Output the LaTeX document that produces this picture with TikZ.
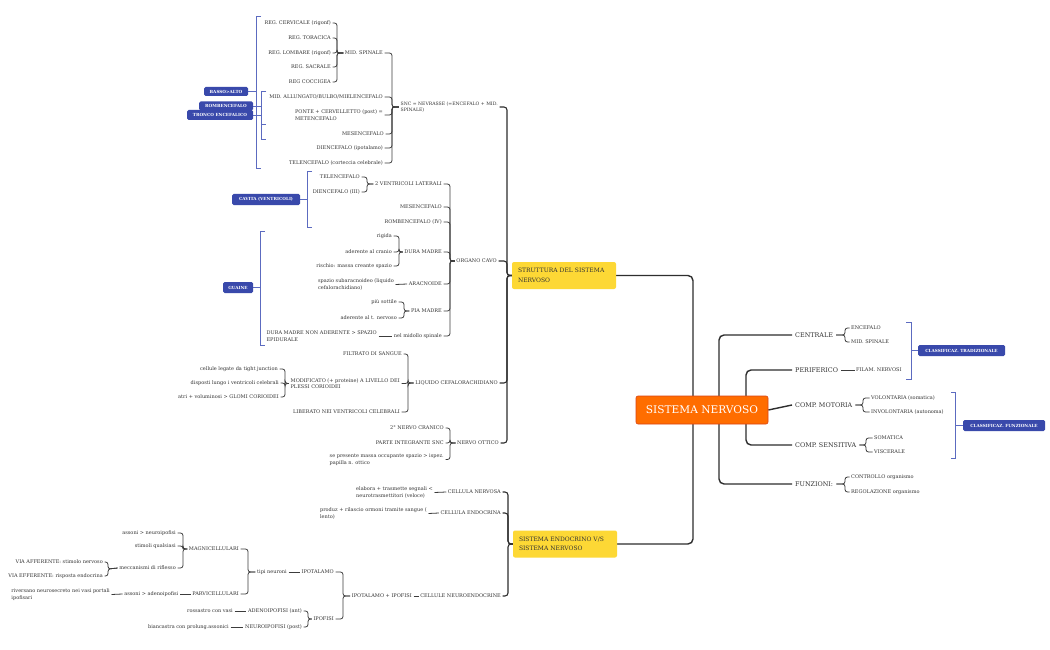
\documentclass[tikz,border=0pt]{standalone}
\usepackage{fontspec}
\setmainfont{DejaVu Serif}
\usetikzlibrary{backgrounds}
\hyphenpenalty=10000
\exhyphenpenalty=10000
\definecolor{txt}{HTML}{333333}
\definecolor{ln}{HTML}{2E2E2E}
\definecolor{ln3}{HTML}{3C3C3C}
\definecolor{orng}{HTML}{FF6D00}
\definecolor{orngd}{HTML}{D84315}
\definecolor{ylw}{HTML}{FDD835}
\definecolor{bdg}{HTML}{3949AB}
\definecolor{brk}{HTML}{5C6BC0}
\tikzset{
  sm/.style={font=\fontsize{5}{6.5}\selectfont, text=txt, inner sep=1.5pt, align=left},
  L/.style={sm, anchor=east},
  R/.style={sm, anchor=west},
  midr/.style={font=\fontsize{6.4}{8}\selectfont, text=txt, inner sep=3pt, anchor=west},
  yel/.style={fill=ylw, rounded corners=2pt, font=\fontsize{6}{9.5}\selectfont, text=txt,
    align=left, text width=92pt, inner xsep=6pt, minimum height=27pt},
  rootbox/.style={fill=orng, draw=orngd, line width=0.6pt, rounded corners=2pt, text=white,
    font=\fontsize{10.6}{12}\selectfont, minimum width=132pt, minimum height=28pt},
  badge/.style={fill=bdg, rounded corners=1.5pt, text=white, inner sep=0pt,
    font=\bfseries\fontsize{4.2}{5}\selectfont},
  brk/.style={draw=brk, line width=0.7pt},
  c1/.style={draw=ln, line width=1.4pt, rounded corners=5pt},
  c2/.style={draw=ln, line width=1.1pt, rounded corners=3pt},
  c3/.style={draw=ln3, line width=0.8pt, rounded corners=2.5pt},
}
\begin{document}
\begin{tikzpicture}[x=1pt,y=-1pt]
\useasboundingbox (0,0) rectangle (1050,650);

% ---------- root and level 1
\node[rootbox] (root) at (702,410) {SISTEMA NERVOSO};
\node[yel] (str) at (564,275.5) {\mbox{STRUTTURA DEL SISTEMA}\\NERVOSO};
\node[yel] (endo) at (565,544) {\mbox{SISTEMA ENDOCRINO V/S}\\\mbox{SISTEMA NERVOSO}};

% ---------- right side
\node[midr] (centrale) at (792,335) {CENTRALE};
\node[midr] (perif) at (792,370) {PERIFERICO};
\node[midr] (motoria) at (792,405) {COMP. MOTORIA};
\node[midr] (sensit) at (792,445) {COMP. SENSITIVA};
\node[midr] (funz) at (792,484) {FUNZIONI:};
\node[R] (encef) at (849.5,328) {ENCEFALO};
\node[R] (midsp2) at (849.5,342) {MID. SPINALE};
\node[R] (filam) at (854.5,370) {FILAM. NERVOSI};
\node[R] (volon) at (869.5,398) {VOLONTARIA (somatica)};
\node[R] (invol) at (869.5,412) {INVOLONTARIA (autonoma)};
\node[R] (somat) at (872.5,438) {SOMATICA};
\node[R] (visc) at (872.5,452) {VISCERALE};
\node[R] (contr) at (849.5,477) {CONTROLLO organismo};
\node[R] (regol) at (849.5,492) {REGOLAZIONE organismo};
\node[badge, minimum width=87pt, minimum height=11pt] (trad) at (961.5,350.5) {CLASSIFICAZ. TRADIZIONALE};
\node[badge, minimum width=82pt, minimum height=11pt] (funzb) at (1004,425.5) {CLASSIFICAZ. FUNZIONALE};

% ---------- struttura subtree
\node[L, font=\fontsize{4.6}{6.2}\selectfont] (snc) at (499.5,107) {SNC = NEVRASSE (=ENCEFALO + MID.\\SPINALE)};
\node[L] (organo) at (498.5,261) {ORGANO CAVO};
\node[L] (liquido) at (499.5,383) {LIQUIDO CEFALORACHIDIANO};
\node[L] (nervo) at (500.5,443) {NERVO OTTICO};

\node[L] (midsp) at (384.5,53) {MID. SPINALE};
\node[L] (allung) at (384.5,97) {MID. ALLUNGATO/BULBO/MIELENCEFALO};
\node[L] (ponte) at (384.5,115) {PONTE + CERVELLETTO (post) =\\METENCEFALO};
\node[L] (mesen1) at (385.5,134) {MESENCEFALO};
\node[L] (dien1) at (384.5,148) {DIENCEFALO (ipotalamo)};
\node[L] (tele1) at (384.5,163) {TELENCEFALO (corteccia celebrale)};

\node[L] (cerv) at (332.5,23) {REG. CERVICALE (rigonf)};
\node[L] (torac) at (332.5,38) {REG. TORACICA};
\node[L] (lomb) at (332.5,53) {REG. LOMBARE (rigonf)};
\node[L] (sacr) at (332.5,67) {REG. SACRALE};
\node[L] (cocc) at (332.5,82) {REG COCCIGEA};

\node[L] (ventr) at (443.5,184) {2 VENTRICOLI LATERALI};
\node[L] (mesen2) at (443.5,207) {MESENCEFALO};
\node[L] (romb2) at (443.5,222) {ROMBENCEFALO (IV)};
\node[L] (dura) at (443.5,252) {DURA MADRE};
\node[L] (arac) at (443.5,284) {ARACNOIDE};
\node[L] (pia) at (443.5,311) {PIA MADRE};
\node[L] (nelmid) at (443.5,336) {nel midollo spinale};

\node[L] (tele2) at (361.5,177) {TELENCEFALO};
\node[L] (dien2) at (361.5,192) {DIENCEFALO (III)};
\node[L] (rigida) at (393.5,236) {rigida};
\node[L] (aderc) at (393.5,252) {aderente al cranio};
\node[L] (rischio) at (393.5,266) {rischio: massa creante spazio};
\node[L] (subar) at (395.5,284.5) {spazio subaracnoideo (liquido\\cefalorachidiano)};
\node[L] (sottile) at (398.5,302) {più sottile};
\node[L] (adert) at (398.5,318) {aderente al t. nervoso};
\node[L] (epid) at (378.5,336) {DURA MADRE NON ADERENTE > SPAZIO\\EPIDURALE};

\node[L] (filtr) at (403.5,354) {FILTRATO DI SANGUE};
\node[L] (modif) at (401.5,383.5) {MODIFICATO (+ proteine) A LIVELLO DEI\\PLESSI CORIOIDEI};
\node[L] (liber) at (401.5,412) {LIBERATO NEI VENTRICOLI CELEBRALI};
\node[L] (tight) at (279.5,369) {cellule legate da tight junction};
\node[L] (dispo) at (280.5,383) {disposti lungo i ventricoli celebrali};
\node[L] (atri) at (280.5,397) {atri + voluminosi > GLOMI CORIOIDEI};

\node[L] (cran) at (445.5,428) {2° NERVO CRANICO};
\node[L] (parte) at (445.5,443) {PARTE INTEGRANTE SNC};
\node[L] (massa) at (445.5,459.5) {se presente massa occupante spazio > ispez.\\papilla n. ottico};

% ---------- endocrino subtree
\node[L] (cnerv) at (502.5,492) {CELLULA NERVOSA};
\node[L] (cendo) at (502.5,513) {CELLULA ENDOCRINA};
\node[L] (cneuro) at (502.5,596) {CELLULE NEUROENDOCRINE};
\node[L] (elab) at (434.5,492.5) {elabora + trasmette segnali <\\neurotrasmettitori (veloce)};
\node[L] (produz) at (428.5,513.5) {produz + rilascio ormoni tramite sangue (\\lento)};
\node[L] (ipoipo) at (413.5,596) {IPOTALAMO + IPOFISI};
\node[L] (ipot) at (335.5,572) {IPOTALAMO};
\node[L] (ipof) at (335.5,619) {IPOFISI};
\node[L] (tipi) at (288.5,572) {tipi neuroni};
\node[L] (magni) at (240.5,549) {MAGNICELLULARI};
\node[L] (parvi) at (240.5,594) {PARVICELLULARI};
\node[L] (assn) at (177.5,533) {assoni > neuroipofisi};
\node[L] (stim) at (177.5,546) {stimoli qualsiasi};
\node[L] (mecc) at (177.5,568) {meccanismi di riflesso};
\node[L] (viaaff) at (104.5,562) {VIA AFFERENTE: stimolo nervoso};
\node[L] (viaeff) at (104.5,576) {VIA EFFERENTE: risposta endocrina};
\node[L] (asad) at (180,594) {assoni > adenoipofisi};
\node[L] (river) at (111.5,594.5) {riversano neurosecreto nei vasi portali\\ipofisari};
\node[L] (adeno) at (303.5,611) {ADENOIPOFISI (ant)};
\node[L] (neuroi) at (303.5,627) {NEUROIPOFISI (post)};
\node[L] (rossa) at (234.5,611) {rossastro con vasi};
\node[L] (bianca) at (230.5,627) {biancastra con prolung.assonici};

% ---------- left badges
\node[badge, minimum width=44pt, minimum height=9pt] (basso) at (226,91.5) {BASSO>ALTO};
\node[badge, minimum width=54pt, minimum height=9pt] (romb) at (226,106) {ROMBENCEFALO};
\node[badge, minimum width=66pt, minimum height=10pt] (tronco) at (220,115) {TRONCO ENCEFALICO};
\node[badge, minimum width=68pt, minimum height=11pt] (cavita) at (266,199.5) {CAVITA (VENTRICOLI)};
\node[badge, minimum width=30pt, minimum height=11pt] (guaine) at (238,287.5) {GUAINE};

\begin{pgfonlayer}{background}
\fill[white] (0,0) rectangle (1050,650);
% summary brackets
\draw[brk] (261,16) -| (256,168) -- (261,168);
\draw[brk] (basso.east) -- (256,91.5);
\draw[brk] (266,91) -| (261,124) -- (266,124);
\draw[brk] (romb.east) -- (261,106);
\draw[brk] (266,91) -| (261,139) -- (266,139);
\draw[brk] (tronco.east) -- (261,115);
\draw[brk] (312,171) -| (307,227) -- (312,227);
\draw[brk] (cavita.east) -- (307,199.5);
\draw[brk] (265,231) -| (260,345) -- (265,345);
\draw[brk] (guaine.east) -- (260,287.5);
\draw[brk] (906,322) -| (911,379) -- (906,379);
\draw[brk] (911,350.5) -- (trad.west);
\draw[brk] (951,392) -| (955,458) -- (951,458);
\draw[brk] (955,425.5) -- (funzb.west);

% root connectors
\coordinate (rl) at (693,410);
\coordinate (rr1) at (719,410);
\coordinate (rr2) at (746,410);
\draw[c1] (str.east) -| (rl);
\draw[c1] (endo.east) -| (rl);
\draw[c1] (rr1) |- (centrale.west);
\draw[c1] (rr1) |- (funz.west);
\draw[c1] (rr2) |- (perif.west);
\draw[c1] (rr2) |- (sensit.west);
\draw[c1] (root.east) -- (motoria.west);

% right level 3
\draw[c3] (centrale.east) -- (845,335) |- (encef.west);
\draw[c3] (centrale.east) -- (845,335) |- (midsp2.west);
\draw[c3] (perif.east) -- (filam.west);
\draw[c3] (motoria.east) -- (863,405) |- (volon.west);
\draw[c3] (motoria.east) -- (863,405) |- (invol.west);
\draw[c3] (sensit.east) -- (866,445) |- (somat.west);
\draw[c3] (sensit.east) -- (866,445) |- (visc.west);
\draw[c3] (funz.east) -- (845,484) |- (contr.west);
\draw[c3] (funz.east) -- (845,484) |- (regol.west);

% struttura
\coordinate (sb) at (507,275.5);
\foreach \n in {snc,organo,liquido,nervo} \draw[c2] (\n.east) -| (sb) -- (str.west);
\coordinate (snb) at (392,107);
\foreach \n in {midsp,allung,ponte,mesen1,dien1,tele1} \draw[c3] (\n.east) -| (snb) -- (snc.west);
\coordinate (msb) at (337,53);
\foreach \n in {cerv,torac,lomb,sacr,cocc} \draw[c3] (\n.east) -| (msb) -- (midsp.west);
\coordinate (ocb) at (450,261);
\foreach \n in {ventr,mesen2,romb2,dura,arac,pia,nelmid} \draw[c3] (\n.east) -| (ocb) -- (organo.west);
\coordinate (vb) at (367,184);
\foreach \n in {tele2,dien2} \draw[c3] (\n.east) -| (vb) -- (ventr.west);
\coordinate (db) at (399,252);
\foreach \n in {rigida,aderc,rischio} \draw[c3] (\n.east) -| (db) -- (dura.west);
\draw[c3] (subar.east) -- (arac.west);
\coordinate (pb) at (404,311);
\foreach \n in {sottile,adert} \draw[c3] (\n.east) -| (pb) -- (pia.west);
\draw[c3] (epid.east) -- (nelmid.west);
\coordinate (lb) at (408,383);
\foreach \n in {filtr,modif,liber} \draw[c3] (\n.east) -| (lb) -- (liquido.west);
\coordinate (mb) at (285,383.5);
\foreach \n in {tight,dispo,atri} \draw[c3] (\n.east) -| (mb) -- (modif.west);
\coordinate (nb) at (450,443);
\foreach \n in {cran,parte,massa} \draw[c3] (\n.east) -| (nb) -- (nervo.west);

% endocrino
\coordinate (eb) at (508,544);
\foreach \n in {cnerv,cendo,cneuro} \draw[c2] (\n.east) -| (eb) -- (endo.west);
\draw[c3] (elab.east) -- (cnerv.west);
\draw[c3] (produz.east) -- (cendo.west);
\draw[c3] (ipoipo.east) -- (cneuro.west);
\coordinate (ib) at (343,596);
\foreach \n in {ipot,ipof} \draw[c3] (\n.east) -| (ib) -- (ipoipo.west);
\draw[c3] (tipi.east) -- (ipot.west);
\coordinate (tb) at (248,572);
\foreach \n in {magni,parvi} \draw[c3] (\n.east) -| (tb) -- (tipi.west);
\coordinate (mgb) at (183,549);
\foreach \n in {assn,stim,mecc} \draw[c3] (\n.east) -| (mgb) -- (magni.west);
\coordinate (meb) at (108,569);
\foreach \n in {viaaff,viaeff} \draw[c3] (\n.east) -| (meb) -- (mecc.west);
\draw[c3] (asad.east) -- (parvi.west);
\draw[c3] (river.east) -- (asad.west);
\coordinate (ifb) at (308,619);
\foreach \n in {adeno,neuroi} \draw[c3] (\n.east) -| (ifb) -- (ipof.west);
\draw[c3] (rossa.east) -- (adeno.west);
\draw[c3] (bianca.east) -- (neuroi.west);
\end{pgfonlayer}
\end{tikzpicture}
\end{document}
